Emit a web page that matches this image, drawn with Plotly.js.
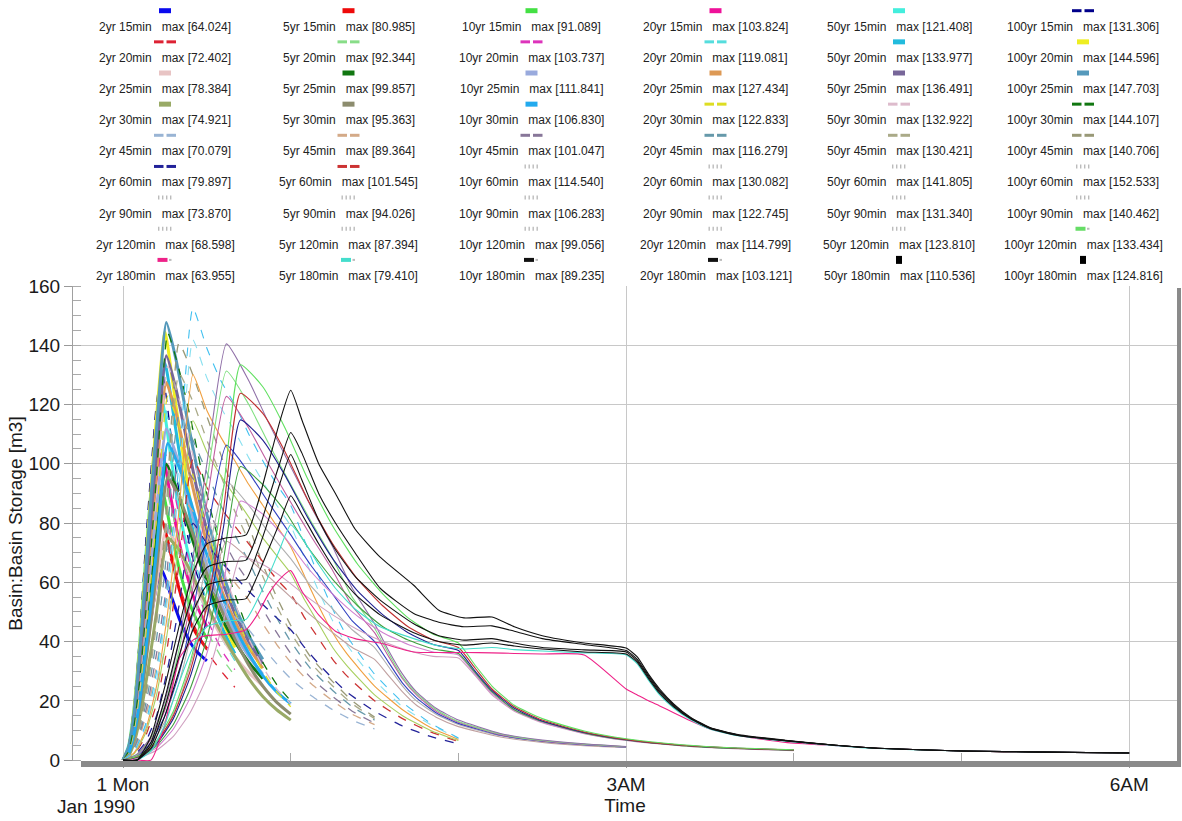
<!DOCTYPE html>
<html><head><meta charset="utf-8">
<script src="https://cdn.plot.ly/plotly-3.0.1.min.js"></script>
<style>html,body{margin:0;padding:0;background:#fff;}#chart{width:1182px;height:821px;}</style>
</head><body><div id="chart"></div>
<script>
// ---------------- DATA ----------------
const returnPeriods = ['2yr','5yr','10yr','20yr','50yr','100yr'];
const durations = ['15min','20min','25min','30min','45min','60min','90min','120min','180min'];

// time in minutes after storm start, one array per storm duration
const time15 = [0, 2, 4, 6, 8, 10, 12, 14, 17, 20, 23, 26, 30];
const time20 = [0, 2, 4, 6, 8, 10, 12, 15, 18, 21, 24, 28, 32, 36, 40];
const time25 = [0, 2, 4, 6, 8, 10, 12, 15.5, 19, 23, 27, 31, 35, 40, 45, 50];
const time30 = [0, 2, 4, 6, 8, 10, 12, 16, 20, 24, 28, 32, 36, 40, 45, 50, 55, 60];
const time45 = [0, 3, 6, 9, 12, 15, 20, 25, 30, 35, 40, 45, 50, 55, 60, 67, 75, 82, 90];
const time60 = [0, 4, 8, 12, 16, 20, 25, 30, 35, 40, 45, 50, 55, 60, 65, 70, 75, 80, 90, 100, 110, 120];
const time90 = [0, 5, 10, 15, 20, 25, 30, 37, 45, 52, 60, 67, 75, 82, 90, 95, 100, 105, 112, 120, 135, 150, 165, 180];
const time120 = [0, 6, 12, 18, 24, 30, 36, 42, 50, 58, 66, 75, 84, 93, 102, 111, 120, 126, 132, 140, 150, 165, 180, 200, 220, 240];
const time180 = [0, 5, 10, 15, 20, 25, 30, 37, 44, 48, 52, 56, 60, 64, 70, 76, 83, 92, 104, 113, 122, 132, 140, 150, 165, 180, 184, 188, 192, 197, 203, 210, 220, 237, 255, 270, 300, 330, 360];

// storage [m3]
const s15_2yr   = [0, 2.6, 9.6, 21, 35, 48, 59, 64.024, 56, 48, 41.6, 37, 33.5];
const s15_5yr   = [0, 3.2, 12, 27, 44.5, 61, 74.5, 80.985, 70, 58, 49, 43, 37.5];
const s15_10yr  = [0, 3.6, 13.7, 30, 50, 68, 84, 91.089, 78, 65, 55, 48, 41];
const s15_20yr  = [0, 4.2, 15.6, 34, 57, 78, 95.5, 103.824, 89, 74, 62, 53, 45];
const s15_50yr  = [0, 4.9, 18, 40, 67, 91, 112, 121.408, 103, 85, 71, 60, 50];
const s15_100yr = [0, 5.3, 19.7, 43, 72, 98, 121, 131.306, 111, 91, 76, 64, 53];

const s20_2yr   = [0, 2.2, 8.7, 19.5, 32.6, 45.6, 58, 72.402, 65, 56.5, 48.5, 40.5, 34, 29, 24.6];
const s20_5yr   = [0, 2.8, 11, 25, 41.5, 58, 74, 92.344, 82, 70, 59, 48, 40, 33.5, 28.5];
const s20_10yr  = [0, 3.1, 12.4, 28, 46.7, 65, 83, 103.737, 92, 78, 65.5, 53, 43.5, 36, 30.5];
const s20_20yr  = [0, 3.6, 14.3, 32, 53.6, 75, 95, 119.081, 105, 88.5, 74, 59.5, 48.5, 40, 33.5];
const s20_50yr  = [0, 4, 16, 36, 60, 84, 107, 133.977, 117, 98.5, 82, 65.5, 53, 43.5, 36];
const s20_100yr = [0, 4.3, 17.4, 39, 65, 91, 116, 144.596, 126, 106, 88, 70, 56.5, 46, 38];

const s25_2yr   = [0, 2.4, 8.6, 19.6, 33, 47, 59.6, 78.384, 73, 65, 56.5, 49, 42, 35, 29.5, 25];
const s25_5yr   = [0, 3, 11, 25, 42, 60, 76, 99.857, 92, 80, 68, 57.5, 48.5, 40, 33, 27.5];
const s25_10yr  = [0, 3.4, 12.3, 28, 47, 67, 85, 111.841, 103, 89, 75, 63, 53, 43, 35, 29];
const s25_20yr  = [0, 3.8, 14, 32, 53.5, 76.5, 97, 127.434, 117, 100, 84, 70, 58, 47, 38, 31];
const s25_50yr  = [0, 4.1, 15, 34, 57, 82, 104, 136.491, 125, 107, 89, 74, 61.5, 49.5, 40, 32.5];
const s25_100yr = [0, 4.4, 16.2, 37, 62, 88.6, 112, 147.703, 135, 115, 96, 79, 65, 52, 42, 34];

const s30_2yr   = [0, 1.5, 6, 14, 25, 37, 50, 74.921, 71, 64, 56, 48.5, 41.5, 35, 27.5, 21.5, 17, 13.5];
const s30_5yr   = [0, 2, 8, 18, 32, 47, 64, 95.363, 89, 79, 68, 58, 49, 41, 32, 25, 19.5, 15.5];
const s30_10yr  = [0, 2.2, 9, 20, 36, 53, 71, 106.830, 99, 88, 75, 64, 54, 45, 36, 28.5, 23, 19];
const s30_20yr  = [0, 2.5, 10, 23, 41, 61, 82, 122.833, 113, 100, 85, 72, 60, 50, 38.5, 30, 23, 18];
const s30_50yr  = [0, 2.7, 11, 25, 45, 66, 89, 132.922, 122, 107, 91, 77, 64, 53, 41, 31.5, 24, 19];
const s30_100yr = [0, 3, 12, 27, 48, 71, 96, 144.107, 132, 116, 98, 82, 68, 56, 43, 33, 25.5, 20];

const s45_2yr   = [0, 1.5, 6, 14, 25, 38, 70.079, 66, 60, 54, 48.5, 44, 38, 32.5, 27.5, 22, 17, 13.5, 10.5];
const s45_5yr   = [0, 2, 8, 18, 32, 49, 89.364, 84, 76, 68, 60, 54, 46, 39, 33, 26, 20, 15.5, 12];
const s45_10yr  = [0, 2.2, 9, 20, 36, 55, 101.047, 95, 85, 76, 67, 60, 51, 43, 36, 28, 21.5, 16.5, 12.5];
const s45_20yr  = [0, 2.5, 10, 23, 41, 64, 116.279, 108, 97, 86, 76, 67, 57, 48, 40, 31, 23.5, 18, 13.5];
const s45_50yr  = [0, 2.8, 11, 26, 46, 72, 130.421, 121, 108, 96, 84, 74, 62, 52, 43, 33, 25, 19, 14];
const s45_100yr = [0, 3, 12, 28, 50, 78, 140.706, 130, 116, 103, 90, 79, 66, 55, 45.5, 35, 26.5, 20, 14.5];

const s60_2yr   = [0, 1.5, 6, 15, 31, 52, 79.897, 73, 67, 62, 57, 52.5, 48, 44, 38, 32.5, 27.5, 23, 16.5, 11.5, 8, 5.5];
const s60_5yr   = [0, 2, 8, 19, 39, 66, 101.545, 92, 85, 79, 73, 67, 61, 56, 48, 41, 34, 28.5, 20, 14, 9.5, 6.3];
const s60_10yr  = [0, 2.2, 9, 22, 44, 74, 114.540, 104, 96, 89, 82, 75, 69, 63, 54, 46, 38, 32, 22, 15, 10, 6.6];
const s60_20yr  = [0, 2.5, 10, 25, 50, 84, 130.082, 118, 109, 101, 93, 86, 79, 72, 62, 52, 43, 36, 25, 17, 11, 7];
const s60_50yr  = [0, 2.8, 11, 27, 55, 92, 141.805, 129, 119, 111, 102, 94, 86, 79, 68, 57, 47, 39, 27, 18, 12, 7.3];
const s60_100yr = [0, 3, 12, 30, 60, 100, 152.533, 139, 128, 120, 110, 101, 93, 86, 74, 62, 51, 42, 29, 19.5, 12.5, 7.5];

const s90_2yr   = [0, 1, 4, 10, 20, 35, 52, 73.870, 68, 62, 55, 49, 43, 38, 34, 28.5, 23, 18.5, 14.5, 11.3, 7.8, 6, 4.9, 4.3];
const s90_5yr   = [0, 1.2, 5.3, 13, 26, 45, 67, 94.026, 86, 77, 68, 59, 51, 44, 38, 31.5, 25, 20, 15.5, 12, 8.2, 6.3, 5.1, 4.4];
const s90_10yr  = [0, 1.4, 6, 15, 29, 50, 76, 106.283, 97, 87, 76, 66, 56, 47, 40, 33, 26, 21, 16, 12.4, 8.4, 6.4, 5.2, 4.4];
const s90_20yr  = [0, 1.6, 7, 17, 34, 58, 87, 122.745, 112, 100, 87, 76, 64, 52, 43, 35, 27.5, 22, 16.5, 12.8, 8.6, 6.5, 5.3, 4.5];
const s90_50yr  = [0, 1.8, 7.5, 18.5, 37, 63, 94, 131.340, 120, 107, 93, 81, 68, 55, 44.5, 36, 28, 22.5, 17, 13, 8.8, 6.6, 5.4, 4.5];
const s90_100yr = [0, 2, 8, 20, 40, 68, 100, 140.462, 128, 114, 99, 86, 72, 58, 46, 37, 29, 23, 17.5, 13.5, 9, 6.8, 5.5, 4.6];

const s120_2yr   = [0, 0.8, 3.3, 8, 16, 28, 47, 68.598, 66, 61, 55, 49, 44, 40, 37, 35, 34.5, 28.5, 22, 16.5, 12.6, 8.9, 6.6, 4.8, 3.8, 3.2];
const s120_5yr   = [0, 1, 4.2, 10.5, 21, 36, 60, 87.394, 83, 75, 65, 56, 48.5, 43, 39, 36.5, 35.5, 29, 22.5, 16.8, 12.8, 9, 6.7, 4.9, 3.9, 3.3];
const s120_10yr  = [0, 1.2, 4.8, 12, 24, 41, 68, 99.056, 93, 84, 72, 61, 52, 45, 40.5, 37.5, 36, 29.5, 23, 17, 13, 9.2, 6.8, 4.9, 3.9, 3.3];
const s120_20yr  = [0, 1.4, 5.5, 14, 28, 48, 79, 114.799, 108, 96, 82, 68, 57, 49, 43, 39, 37, 30, 23.5, 17.5, 13.2, 9.3, 6.9, 5, 4, 3.4];
const s120_50yr  = [0, 1.5, 6, 15, 30, 52, 85, 123.810, 117, 104, 88, 73, 61, 52, 45, 40.5, 38, 31, 24, 18, 13.5, 9.5, 7, 5, 4, 3.4];
const s120_100yr = [0, 1.6, 6.5, 16.5, 33, 57, 92, 133.434, 126, 112, 95, 79, 66, 56, 48, 42.5, 39.5, 32, 25, 18.5, 14, 9.8, 7.2, 5.2, 4.1, 3.5];

const s180_2yr   = [0, 0, 0, 12, 34, 40.5, 42, 42.5, 44, 49, 56, 61, 63.955, 57, 49, 43.5, 41, 39.5, 36.5, 36.3, 36.3, 36.2, 36, 35.8, 35.5, 24, 22, 20, 18.3, 16, 13.3, 10.5, 8.3, 6, 4.9, 4, 3.1, 2.7, 2.4];
const s180_5yr   = [0, 0, 3, 12, 26, 38, 45, 47, 47.5, 54, 62, 71, 79.410, 75, 66, 58, 51, 45, 41, 38.5, 37.5, 38, 37.3, 36.8, 36.2, 35.5, 32.5, 27, 22, 17.6, 13.7, 10.5, 8.2, 6.4, 4.9, 3.9, 3.1, 2.7, 2.4];
const s180_10yr  = [0, 0, 4, 15, 30, 44, 52, 54, 54.5, 62, 71, 80, 89.235, 83, 73, 64, 56, 49, 43, 40, 38.8, 39.5, 38.5, 37.5, 36.5, 35.8, 33, 27.5, 22.5, 18, 14, 10.7, 8.3, 6.5, 5, 4, 3.1, 2.7, 2.4];
const s180_20yr  = [0, 0, 5, 18, 35, 50, 59, 60.7, 61, 70, 81, 93, 103.121, 94.5, 81, 71, 62, 54, 46, 42, 40.5, 41, 39.5, 38, 37.2, 36.5, 33.5, 28, 23, 18.4, 14.1, 10.8, 8.4, 6.6, 5, 4, 3.1, 2.7, 2.4];
const s180_50yr  = [0, 0, 6, 21, 40, 56, 65, 67, 67.5, 76, 88, 100, 110.536, 103.6, 90, 80, 70, 58, 49.5, 46.5, 45, 45.3, 43.5, 41, 39, 37, 34, 28.5, 23.5, 18.7, 14.3, 10.9, 8.5, 6.6, 5, 4, 3.1, 2.7, 2.4];
const s180_100yr = [0, 0, 8, 25, 45, 63, 73, 75, 76, 86, 100, 114, 124.816, 114.8, 100, 90, 78, 68.5, 59, 50.6, 48, 48.3, 45, 42, 39.5, 37.8, 34.8, 29, 24, 19, 14.5, 11, 8.6, 6.7, 5, 4, 3.1, 2.7, 2.4];

// ---------------- STYLE ----------------
const groups = [
  [time15,  [s15_2yr, s15_5yr, s15_10yr, s15_20yr, s15_50yr, s15_100yr]],
  [time20,  [s20_2yr, s20_5yr, s20_10yr, s20_20yr, s20_50yr, s20_100yr]],
  [time25,  [s25_2yr, s25_5yr, s25_10yr, s25_20yr, s25_50yr, s25_100yr]],
  [time30,  [s30_2yr, s30_5yr, s30_10yr, s30_20yr, s30_50yr, s30_100yr]],
  [time45,  [s45_2yr, s45_5yr, s45_10yr, s45_20yr, s45_50yr, s45_100yr]],
  [time60,  [s60_2yr, s60_5yr, s60_10yr, s60_20yr, s60_50yr, s60_100yr]],
  [time90,  [s90_2yr, s90_5yr, s90_10yr, s90_20yr, s90_50yr, s90_100yr]],
  [time120, [s120_2yr, s120_5yr, s120_10yr, s120_20yr, s120_50yr, s120_100yr]],
  [time180, [s180_2yr, s180_5yr, s180_10yr, s180_20yr, s180_50yr, s180_100yr]]
];
// legend swatch kind per row (duration) and column (return period)
const swKind = [
  ['s','s','s','s','s','d'],
  ['d','d','d','d','s','s'],
  ['s','s','s','s','s','s'],
  ['s','s','s','d','d','d'],
  ['d','d','d','d','d','d'],
  ['d','d','o','o','o','o'],
  ['o','o','o','o','o','o'],
  ['o','o','o','o','o','x'],
  ['x','x','x','x','q','q']
];
const swColor = [
  ['#0a0aee','#ee0a0a','#44e044','#ee1199','#44eedd','#00008a'],
  ['#dd2233','#88dd88','#dd33bb','#55dddd','#22bbdd','#eeee22'],
  ['#e8c4c4','#117711','#99aadd','#dd9955','#776699','#5599bb'],
  ['#99aa66','#8c8c6e','#22aaee','#dddd22','#ddbbcc','#117711'],
  ['#99b4d4','#d4aa88','#887799','#6699aa','#aaaa88','#999977'],
  ['#222299','#cc3333','#bbb','#bbb','#bbb','#bbb'],
  ['#bbb','#bbb','#bbb','#bbb','#bbb','#bbb'],
  ['#bbb','#bbb','#bbb','#bbb','#bbb','#66dd66'],
  ['#ee2288','#44ddcc','#111','#111','#000','#000']
];
const lineColor = [
  ['#0a0aee','#ee0a0a','#44e044','#ee1199','#44eedd','#00008a'],
  ['#dd2233','#88dd88','#dd33bb','#55dddd','#22bbdd','#eeee22'],
  ['#e8c4c4','#117711','#99aadd','#dd9955','#776699','#5599bb'],
  ['#99aa66','#8c8c6e','#22aaee','#dddd22','#ddbbcc','#117711'],
  ['#99b4d4','#d4aa88','#887799','#6699aa','#aaaa88','#999977'],
  ['#222299','#cc3333','#a8d060','#f0a040','#88e0f0','#40c0f0'],
  ['#c0a0a0','#b0b0b0','#3040c0','#c060a0','#80e080','#9070a8'],
  ['#d0a0c0','#d080d0','#40a040','#202090','#c03030','#60e060'],
  ['#ee2288','#44ddcc','#111','#111','#111','#111']
];

// ---------------- BUILD ----------------
const traces = [];
groups.forEach((g, r) => {
  g[1].forEach((vals, c) => {
    const k = swKind[r][c];
    let width = 1.1, dash = 'solid';
    if (k === 's' && r <= 3) width = 3;
    if (k === 'd') { width = 1.3; dash = 'dash'; }
    if (r === 5 && c >= 4) { dash = 'dash'; width = 1.1; }
    traces.push({
      x: g[0], y: vals, type: 'scatter', mode: 'lines',
      name: returnPeriods[c] + ' ' + durations[r],
      line: {color: lineColor[r][c], width: width, dash: dash, shape: 'spline', smoothing: 0.5},
      hoverinfo: 'skip'
    });
  });
});

const PL = 73, PR = 1177, PT = 286, PB = 761;
const X = px => (px - PL) / (PR - PL);
const Y = py => (PB - py) / (PB - PT);

const annotations = [];
const shapes = [];
const colCenters = [165, 348.5, 531.5, 715.5, 899, 1083];
const nb = '\u00a0';
groups.forEach((g, r) => {
  g[1].forEach((vals, c) => {
    const cx = colCenters[c];
    const ty = 26.7 + 31.15 * r;
    const sy = ty - 16;
    const mx = Math.max(...vals).toFixed(3);
    annotations.push({
      xref: 'paper', yref: 'paper', x: X(cx), y: Y(ty), xanchor: 'center', yanchor: 'middle',
      showarrow: false, text: returnPeriods[c] + ' ' + durations[r] + nb + nb + nb + 'max [' + mx + ']',
      font: {size: 12, color: '#222', family: '"Liberation Sans", Arial, sans-serif'}
    });
    const col = swColor[r][c];
    const rect = (x0, x1, y0, y1, fc) => shapes.push({type: 'rect', xref: 'paper', yref: 'paper',
      x0: X(x0), x1: X(x1), y0: Y(y1), y1: Y(y0), fillcolor: fc, line: {width: 0}, layer: 'above'});
    const k = swKind[r][c];
    if (k === 's') rect(cx - 6, cx + 6, sy - 2.5, sy + 2.5, col);
    else if (k === 'd') { rect(cx - 11, cx - 1.5, sy - 1.5, sy + 1.5, col); rect(cx + 1.5, cx + 11, sy - 1.5, sy + 1.5, col); }
    else if (k === 'o') { for (let i = 0; i < 4; i++) rect(cx - 7 + i * 4, cx - 5.6 + i * 4, sy - 2, sy + 2, col); }
    else if (k === 'x') { rect(cx - 7.5, cx + 2.5, sy - 2, sy + 2, col); rect(cx + 4, cx + 6.5, sy - 1, sy + 1, '#bbb'); }
    else if (k === 'q') rect(cx - 3, cx + 3, sy - 4, sy + 4, col);
  });
});
annotations.push({xref: 'paper', yref: 'paper', x: X(96), y: Y(806), xanchor: 'center', yanchor: 'middle',
  showarrow: false, text: 'Jan 1990', font: {size: 19, color: '#1a1a1a'}});
// frame shading
shapes.push({type: 'rect', xref: 'paper', yref: 'paper', x0: X(81), x1: X(1181), y0: Y(767), y1: Y(761), fillcolor: '#8a8a8a', line: {width: 0}, layer: 'above'});
shapes.push({type: 'rect', xref: 'paper', yref: 'paper', x0: X(1177), x1: X(1181), y0: Y(767), y1: Y(288), fillcolor: '#8a8a8a', line: {width: 0}, layer: 'above'});

const layout = {
  width: 1182, height: 821,
  margin: {l: PL, r: 1182 - PR, t: PT, b: 821 - PB},
  paper_bgcolor: '#fff', plot_bgcolor: '#fff',
  showlegend: false,
  font: {family: '"Liberation Sans", Arial, sans-serif', color: '#1a1a1a', size: 19},
  xaxis: {
    range: [-17.9, 377.1], tickmode: 'array', tickvals: [0, 180, 360], ticktext: ['1 Mon', '3AM', '6AM'],
    ticks: 'outside', ticklen: 6, tickcolor: '#999', showgrid: true, gridcolor: '#c8c8c8', gridwidth: 1,
    zeroline: false, showline: false, tickfont: {size: 19},
    title: {text: 'Time', font: {size: 19}, standoff: 2},
    minor: {tickmode: 'array', tickvals: [60, 120, 240, 300], ticks: 'inside', ticklen: 8, tickcolor: '#aaa', showgrid: false},
    automargin: false
  },
  yaxis: {
    range: [-0.3, 160], tickmode: 'array', tickvals: [0, 20, 40, 60, 80, 100, 120, 140, 160],
    ticks: 'outside', ticklen: 8, tickcolor: '#999', showgrid: true, gridcolor: '#c8c8c8', gridwidth: 1,
    zeroline: false, showline: true, linecolor: '#a0a0a0', linewidth: 1, tickfont: {size: 19},
    title: {text: 'Basin:Basin Storage [m3]', font: {size: 19}, standoff: 0},
    minor: {tickmode: 'linear', tick0: 0, dtick: 5, ticks: 'inside', ticklen: 8, tickcolor: '#aaa', showgrid: false},
    automargin: false
  },
  annotations: annotations,
  shapes: shapes
};
Plotly.newPlot('chart', traces, layout, {staticPlot: true, displayModeBar: false});
</script>
</body></html>
